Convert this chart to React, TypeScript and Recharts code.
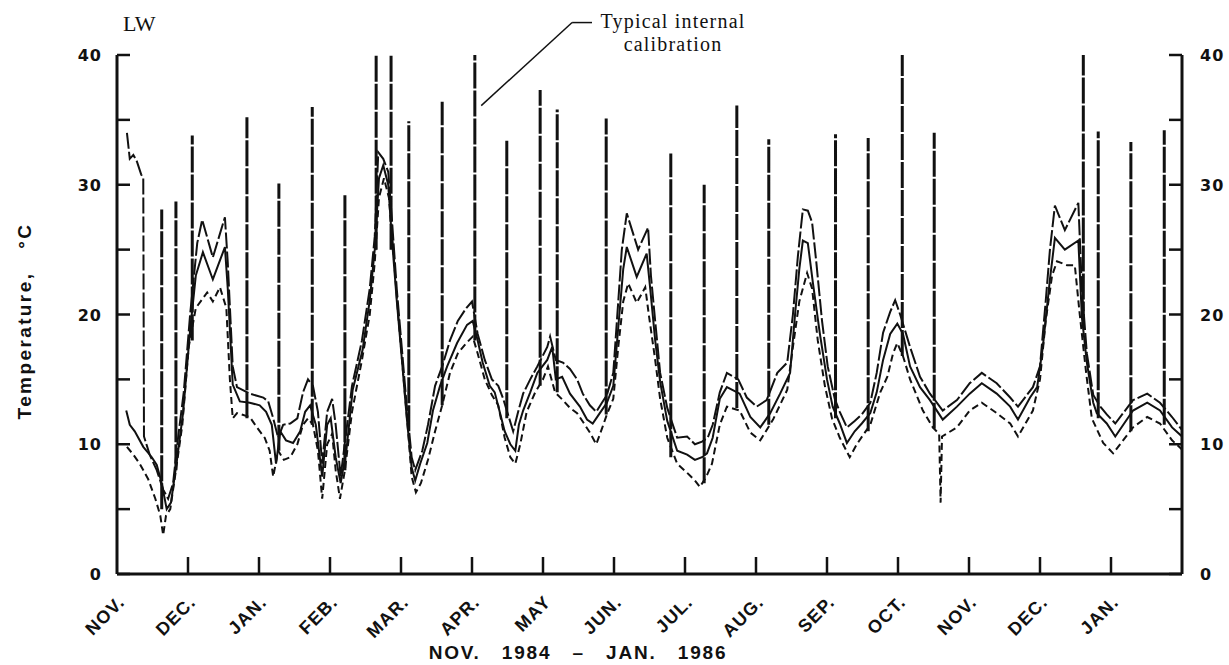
import { LineChart, Line, XAxis, YAxis, ReferenceLine } from "recharts";

// month index 0 = start of Nov. 1984, 15 = end of Jan. 1986
const monthLabels = ["NOV.", "DEC.", "JAN.", "FEB.", "MAR.", "APR.", "MAY", "JUN.", "JUL.", "AUG.", "SEP.", "OCT.", "NOV.", "DEC.", "JAN."];
const monthTicks = monthLabels.map((_, i) => i);
const tempTicks = [0, 5, 10, 15, 20, 25, 30, 35, 40];

// [month, °C]
const upper: [number, number][] = [
  [0.14, 34.0], [0.18, 32.0], [0.23, 32.3], [0.28, 31.8], [0.34, 30.8], [0.37, 30.5], [0.38, 10.6], [0.46, 9.2], [0.56, 8.0], [0.65, 6.5],
  [0.72, 5.8], [0.79, 7.0], [0.86, 10.5], [0.94, 14.0], [1.03, 20.0], [1.13, 25.5], [1.2, 27.3], [1.35, 24.4], [1.52, 27.5], [1.56, 24.0],
  [1.63, 16.0], [1.69, 14.4], [1.87, 13.9], [2.06, 13.6], [2.13, 13.3], [2.2, 12.0], [2.27, 10.5], [2.34, 11.5], [2.44, 11.6], [2.54, 12.0],
  [2.62, 14.0], [2.69, 15.0], [2.76, 14.5], [2.83, 12.5], [2.89, 8.5], [2.96, 12.5], [3.03, 13.5], [3.08, 11.5], [3.15, 7.5], [3.23, 11.0],
  [3.31, 14.5], [3.45, 18.0], [3.56, 22.0], [3.63, 26.0], [3.68, 32.5], [3.75, 32.0], [3.82, 31.0], [3.87, 27.5], [3.94, 22.0], [4.01, 17.5],
  [4.08, 13.0], [4.15, 9.0], [4.2, 8.0], [4.3, 9.5], [4.38, 11.5], [4.48, 14.5], [4.58, 16.0], [4.69, 18.0], [4.8, 19.5], [4.92, 20.5],
  [5.0, 21.0], [5.08, 18.5], [5.18, 16.5], [5.28, 15.0], [5.37, 14.5], [5.44, 13.5], [5.49, 12.6], [5.58, 11.0], [5.65, 12.5], [5.72, 13.9],
  [5.82, 15.0], [5.92, 16.0], [6.06, 17.5], [6.1, 18.3], [6.18, 16.5], [6.28, 16.3], [6.38, 15.8], [6.48, 15.0], [6.56, 13.9], [6.66, 13.0],
  [6.75, 12.5], [6.83, 13.2], [6.9, 13.8], [6.99, 15.5], [7.06, 21.0], [7.11, 25.0], [7.18, 27.8], [7.34, 25.0], [7.48, 26.7], [7.52, 23.0],
  [7.58, 19.5], [7.65, 15.5], [7.75, 12.8], [7.89, 10.5], [8.03, 10.6], [8.14, 10.0], [8.24, 10.2], [8.32, 10.5], [8.39, 11.5], [8.49, 14.0],
  [8.59, 15.5], [8.75, 15.0], [8.87, 13.6], [9.01, 12.9], [9.15, 13.4], [9.3, 15.5], [9.44, 16.3], [9.52, 20.0], [9.59, 24.5], [9.66, 28.1],
  [9.73, 28.0], [9.79, 27.1], [9.85, 24.0], [9.93, 19.5], [10.01, 16.0], [10.11, 13.5], [10.18, 12.5], [10.28, 11.3], [10.39, 11.8], [10.49, 12.3],
  [10.61, 13.2], [10.7, 15.5], [10.79, 18.6], [10.89, 20.2], [10.96, 21.1], [11.03, 20.0], [11.17, 17.5], [11.31, 15.2], [11.45, 13.9], [11.63, 12.6],
  [11.83, 13.4], [12.01, 14.7], [12.18, 15.5], [12.39, 14.7], [12.58, 13.6], [12.69, 12.9], [12.9, 14.4], [13.0, 16.0], [13.08, 21.0], [13.14, 25.0],
  [13.21, 28.4], [13.35, 26.5], [13.54, 28.6], [13.59, 22.0], [13.66, 17.0], [13.75, 13.8], [13.85, 12.9], [13.94, 12.3], [14.06, 11.6], [14.31, 13.4],
  [14.51, 13.9], [14.69, 13.2], [14.86, 12.1], [15.0, 11.1],
];

const middle: [number, number][] = [
  [0.13, 12.6], [0.18, 11.5], [0.25, 11.0], [0.37, 9.8], [0.49, 9.0], [0.56, 8.4], [0.63, 7.0], [0.7, 5.0], [0.76, 5.5], [0.85, 9.0],
  [0.93, 12.4], [1.03, 18.8], [1.11, 23.0], [1.21, 24.8], [1.35, 22.7], [1.52, 25.2], [1.56, 22.0], [1.63, 14.6], [1.73, 13.3], [1.87, 13.2],
  [2.01, 13.0], [2.1, 12.5], [2.18, 11.5], [2.24, 8.5], [2.3, 11.0], [2.38, 10.3], [2.48, 10.1], [2.58, 11.0], [2.65, 12.5], [2.72, 13.0],
  [2.8, 11.5], [2.89, 7.5], [2.96, 11.5], [3.01, 12.0], [3.08, 9.0], [3.15, 7.0], [3.23, 9.5], [3.32, 14.2], [3.46, 17.3], [3.56, 21.1],
  [3.63, 25.0], [3.69, 30.5], [3.75, 31.5], [3.82, 30.0], [3.87, 26.0], [3.94, 21.1], [4.01, 16.7], [4.08, 12.1], [4.15, 8.2], [4.2, 7.2],
  [4.27, 8.5], [4.37, 10.1], [4.45, 12.6], [4.55, 14.5], [4.65, 16.0], [4.79, 17.8], [4.93, 19.2], [5.01, 19.5], [5.08, 18.0], [5.15, 16.3],
  [5.25, 14.5], [5.32, 14.0], [5.39, 12.5], [5.46, 11.0], [5.54, 10.0], [5.61, 9.5], [5.66, 11.5], [5.72, 12.6], [5.82, 14.0], [5.92, 15.5],
  [6.06, 16.5], [6.13, 17.5], [6.18, 15.0], [6.27, 15.2], [6.38, 13.9], [6.52, 12.9], [6.62, 11.9], [6.7, 11.6], [6.8, 12.4], [6.9, 13.2],
  [6.99, 14.5], [7.06, 19.0], [7.13, 23.5], [7.18, 25.2], [7.32, 22.9], [7.46, 24.7], [7.51, 22.0], [7.58, 18.0], [7.65, 14.8], [7.75, 11.8],
  [7.89, 9.5], [8.03, 9.2], [8.14, 8.8], [8.24, 9.0], [8.31, 9.3], [8.39, 10.5], [8.49, 13.5], [8.59, 14.4], [8.77, 13.9], [8.92, 12.1],
  [9.06, 11.3], [9.2, 12.4], [9.34, 13.9], [9.48, 15.5], [9.55, 20.0], [9.61, 23.5], [9.66, 25.7], [9.73, 25.5], [9.8, 22.5], [9.9, 18.5],
  [10.0, 15.0], [10.08, 12.9], [10.18, 11.6], [10.28, 10.1], [10.39, 11.0], [10.49, 11.6], [10.61, 12.4], [10.7, 14.0], [10.79, 16.5], [10.89, 18.5],
  [10.99, 19.3], [11.07, 18.5], [11.17, 16.0], [11.31, 14.4], [11.45, 13.4], [11.63, 11.9], [11.83, 12.9], [12.01, 13.9], [12.18, 14.7], [12.39, 13.9],
  [12.58, 12.9], [12.69, 11.9], [12.86, 13.6], [12.96, 14.4], [13.04, 17.5], [13.14, 22.7], [13.21, 25.9], [13.35, 25.0], [13.54, 25.7], [13.59, 19.8],
  [13.66, 16.3], [13.75, 13.2], [13.8, 12.4], [13.94, 11.6], [14.06, 10.6], [14.31, 12.6], [14.51, 13.2], [14.69, 12.6], [14.86, 11.3], [15.0, 10.6],
];

const lower: [number, number][] = [
  [0.14, 9.8], [0.23, 9.2], [0.32, 8.5], [0.44, 7.3], [0.54, 5.8], [0.61, 4.5], [0.65, 3.0], [0.69, 4.5], [0.75, 5.0], [0.83, 8.0],
  [0.92, 11.5], [1.01, 17.5], [1.11, 20.5], [1.27, 21.7], [1.35, 21.0], [1.45, 22.1], [1.54, 20.5], [1.59, 15.0], [1.63, 12.0], [1.69, 12.4],
  [1.87, 12.1], [1.97, 11.3], [2.08, 10.5], [2.15, 9.5], [2.2, 7.5], [2.27, 9.5], [2.35, 8.8], [2.44, 9.0], [2.54, 10.0], [2.62, 11.5],
  [2.69, 12.0], [2.76, 11.5], [2.83, 9.5], [2.89, 5.8], [2.96, 10.0], [3.03, 10.8], [3.08, 8.0], [3.14, 5.8], [3.21, 8.0], [3.31, 12.5],
  [3.45, 16.5], [3.56, 20.0], [3.63, 24.0], [3.69, 29.0], [3.76, 30.5], [3.83, 29.0], [3.89, 25.0], [3.96, 20.0], [4.03, 15.5], [4.1, 11.0],
  [4.15, 7.5], [4.21, 6.3], [4.28, 7.0], [4.38, 8.8], [4.48, 11.0], [4.58, 13.0], [4.69, 15.5], [4.8, 17.0], [4.92, 17.8], [5.01, 18.3],
  [5.08, 17.0], [5.18, 15.0], [5.28, 13.8], [5.37, 13.0], [5.46, 10.5], [5.54, 9.0], [5.61, 8.5], [5.68, 10.0], [5.77, 12.5], [5.89, 14.0],
  [6.0, 15.0], [6.07, 16.0], [6.17, 14.0], [6.28, 13.4], [6.38, 12.8], [6.48, 12.4], [6.59, 11.5], [6.66, 10.9], [6.75, 10.0], [6.83, 11.2],
  [6.9, 12.3], [6.99, 13.5], [7.06, 17.5], [7.13, 21.0], [7.2, 22.4], [7.32, 20.9], [7.44, 22.1], [7.49, 20.0], [7.58, 16.5], [7.65, 13.5],
  [7.75, 10.5], [7.89, 8.5], [8.03, 7.8], [8.14, 7.2], [8.21, 6.7], [8.3, 7.5], [8.38, 8.5], [8.49, 11.5], [8.59, 12.9], [8.77, 12.6],
  [8.92, 10.9], [9.06, 10.3], [9.24, 11.9], [9.44, 14.2], [9.52, 17.5], [9.61, 21.0], [9.72, 23.2], [9.79, 22.0], [9.87, 18.0], [9.97, 14.5],
  [10.07, 12.0], [10.18, 10.5], [10.32, 9.0], [10.42, 10.0], [10.52, 10.8], [10.61, 11.5], [10.75, 14.0], [10.85, 15.2], [10.93, 17.0], [10.99, 17.8],
  [11.07, 16.8], [11.17, 15.0], [11.35, 12.6], [11.49, 11.3], [11.58, 10.8], [11.6, 5.5], [11.62, 10.6], [11.83, 11.3], [12.01, 12.6], [12.18, 13.2],
  [12.39, 12.4], [12.58, 11.6], [12.69, 10.6], [12.9, 12.6], [13.0, 15.0], [13.08, 19.5], [13.17, 23.0], [13.24, 24.1], [13.38, 23.8], [13.49, 23.8],
  [13.56, 20.0], [13.65, 15.5], [13.73, 12.0], [13.89, 10.1], [14.03, 9.3], [14.31, 11.3], [14.51, 12.1], [14.69, 11.6], [14.86, 10.3], [15.0, 9.6],
];

// internal calibration spikes
const spikeMonth = [0.63, 0.83, 1.06, 1.83, 2.28, 2.75, 3.21, 3.65, 3.86, 4.11, 4.58, 5.04, 5.49, 5.96, 6.2, 6.89, 7.8, 8.27, 8.73, 9.18, 10.12, 10.58, 11.06, 11.51, 13.61, 13.82, 14.28, 14.75];
const spikePeak = [28.1, 28.7, 33.8, 35.2, 30.1, 36.0, 29.2, 40, 40, 34.9, 36.4, 40, 33.4, 37.3, 35.8, 35.1, 32.4, 30.0, 36.1, 33.5, 33.9, 33.6, 40, 34.0, 40, 34.1, 33.3, 34.2];
const spikeBase = [5, 8, 18, 12, 9.5, 11.5, 8, 25, 25, 11, 13, 18, 12, 14.5, 14, 12.3, 9, 7, 12.8, 11.5, 12, 11, 16.8, 11.2, 19, 12, 11, 11.5];

const INK = "#111";
const digitFont = "'DejaVu Sans', sans-serif";
const capsFont = "'Liberation Sans', Arial, sans-serif";
const serifFont = "'Liberation Serif', 'Times New Roman', serif";

const rows = (pts: [number, number][]) => pts.map(([m, t]) => ({ m, t }));
const spikeRows = spikeMonth.flatMap((m, i) => [
  { m, t: spikeBase[i] },
  { m, t: spikePeak[i] },
  { m, t: null as number | null },
]);

const LeftTick = ({ x, y, payload }: any) => (
  <g>
    <line x1={x} y1={y} x2={x + 13} y2={y} stroke={INK} strokeWidth={2.5} />
    {payload.value % 10 === 0 && (
      <text x={x - 15} y={y} dy={6} textAnchor="end" fontFamily={digitFont} fontWeight="bold" fontSize={16} letterSpacing={1} fill={INK}>
        {payload.value}
      </text>
    )}
  </g>
);

const RightTick = ({ x, y, payload }: any) => (
  <g>
    <line x1={x - 13} y1={y} x2={x} y2={y} stroke={INK} strokeWidth={2.5} />
    {payload.value % 10 === 0 && (
      <text x={x + 18} y={y} dy={6} textAnchor="start" fontFamily={digitFont} fontWeight="bold" fontSize={16} letterSpacing={1} fill={INK}>
        {payload.value}
      </text>
    )}
  </g>
);

const MonthTick = ({ x, y, payload }: any) => (
  <g>
    {payload.value > 0 && <line x1={x} y1={y} x2={x} y2={y - 17} stroke={INK} strokeWidth={2.5} />}
    <text
      transform={`translate(${x + 9},${y + 29}) rotate(-45)`}
      textAnchor="end"
      fontFamily={capsFont}
      fontWeight="bold"
      fontSize={18}
      letterSpacing={1.2}
      fill={INK}
    >
      {monthLabels[payload.value]}
    </text>
  </g>
);

export default function App() {
  return (
    <div style={{ position: "absolute", left: 0, top: 0, width: 1229, height: 665, background: "#fff" }}>
      <LineChart width={1229} height={665} margin={{ top: 55, right: 0, bottom: 0, left: 0 }}>
        <XAxis
          dataKey="m"
          type="number"
          domain={[0, 15]}
          ticks={monthTicks}
          interval={0}
          height={91}
          tickSize={0}
          tickMargin={0}
          tickLine={false}
          axisLine={{ stroke: INK, strokeWidth: 3 }}
          tick={MonthTick}
          allowDataOverflow
        />
        <YAxis
          yAxisId="left"
          domain={[0, 40]}
          ticks={tempTicks}
          interval={0}
          width={117}
          tickSize={0}
          tickMargin={0}
          tickLine={false}
          axisLine={{ stroke: INK, strokeWidth: 3 }}
          tick={LeftTick}
          allowDataOverflow
        />
        <YAxis
          yAxisId="right"
          orientation="right"
          domain={[0, 40]}
          ticks={tempTicks}
          interval={0}
          width={47}
          tickSize={0}
          tickMargin={0}
          tickLine={false}
          axisLine={{ stroke: INK, strokeWidth: 3 }}
          tick={RightTick}
          allowDataOverflow
        />
        <Line yAxisId="left" data={rows(lower)} dataKey="t" type="linear" stroke={INK} strokeWidth={2} strokeDasharray="7 4" dot={false} isAnimationActive={false} />
        <Line yAxisId="left" data={rows(middle)} dataKey="t" type="linear" stroke={INK} strokeWidth={2} dot={false} isAnimationActive={false} />
        {/* upper trace sits on the right-hand scale, which is identical to the left one */}
        <Line yAxisId="right" data={rows(upper)} dataKey="t" type="linear" stroke={INK} strokeWidth={2} strokeDasharray="16 3" dot={false} isAnimationActive={false} />
        <Line yAxisId="left" data={spikeRows} dataKey="t" type="linear" stroke={INK} strokeWidth={3} strokeDasharray="26 2" dot={false} isAnimationActive={false} />
        <ReferenceLine yAxisId="left" segment={[{ x: 5.13, y: 36.1 }, { x: 6.41, y: 42.5 }]} stroke={INK} strokeWidth={1.5} ifOverflow="visible" />
        <ReferenceLine yAxisId="left" segment={[{ x: 6.41, y: 42.5 }, { x: 6.69, y: 42.5 }]} stroke={INK} strokeWidth={1.5} ifOverflow="visible" />
      </LineChart>
      <svg width={1229} height={665} style={{ position: "absolute", left: 0, top: 0, pointerEvents: "none" }}>
        <text x={123} y={31} fontFamily={serifFont} fontSize={22} fill={INK}>LW</text>
        <text x={673} y={28} textAnchor="middle" fontFamily={serifFont} fontSize={20} letterSpacing={1.2} fill={INK}>Typical internal</text>
        <text x={673} y={51} textAnchor="middle" fontFamily={serifFont} fontSize={20} letterSpacing={1.2} fill={INK}>calibration</text>
        <text
          transform="translate(31,321) rotate(-90)"
          textAnchor="middle"
          fontFamily={capsFont}
          fontWeight="bold"
          fontSize={19}
          letterSpacing={2.4}
          fill={INK}
          style={{ whiteSpace: "pre" }}
        >
          {"Temperature,   °C"}
        </text>
        <text
          x={578}
          y={659}
          textAnchor="middle"
          fontFamily={capsFont}
          fontWeight="bold"
          fontSize={19}
          letterSpacing={1.8}
          fill={INK}
          style={{ whiteSpace: "pre" }}
        >
          {"NOV.   1984   –   JAN.   1986"}
        </text>
      </svg>
    </div>
  );
}
